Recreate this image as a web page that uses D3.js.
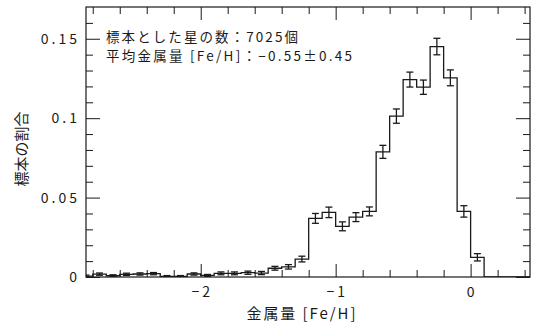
<!DOCTYPE html>
<html>
<head>
<meta charset="utf-8">
<script src="https://cdn.jsdelivr.net/npm/d3@7"></script>
<style>
  body { margin: 0; background: #fff; }
  text { font-family: "Noto Sans CJK JP", "Noto Sans", sans-serif; fill: #1a1a1a; }
</style>
</head>
<body>
<svg id="chart" width="537" height="326"></svg>
<script>
// Metallicity distribution of the sample: fraction of stars per 0.1 dex bin
const binCenters = [
  -2.85, -2.75, -2.65, -2.55, -2.45, -2.35, -2.25, -2.15, -2.05, -1.95,
  -1.85, -1.75, -1.65, -1.55, -1.45, -1.35, -1.25, -1.15, -1.05, -0.95,
  -0.85, -0.75, -0.65, -0.55, -0.45, -0.35, -0.25, -0.15, -0.05, 0.05
];
const fractions = [
  0.0006, 0.0018, 0.0008, 0.0017, 0.0019, 0.0021, 0.0004, 0.0004, 0.0019, 0.0010,
  0.0023, 0.0023, 0.0027, 0.0025, 0.0055, 0.0064, 0.0113, 0.0369, 0.0407, 0.0319,
  0.0377, 0.0413, 0.0788, 0.1013, 0.1243, 0.1195, 0.1451, 0.1254, 0.0413, 0.0124
];
const errors = [
  0.0006, 0.0007, 0.0006, 0.0007, 0.0007, 0.0007, 0.0005, 0.0005, 0.0007, 0.0006,
  0.0009, 0.0009, 0.0010, 0.0010, 0.0012, 0.0014, 0.0018, 0.0031, 0.0033, 0.0028,
  0.0028, 0.0028, 0.0041, 0.0045, 0.0047, 0.0045, 0.0052, 0.0050, 0.0036, 0.0023
];
const binWidth = 0.1;

const xDomain = [-2.85, 0.44];
const yDomain = [0, 0.17];
const xMajorTicks = [-2, -1, 0];
const xTickLabels = ["\u22122", "\u22121", "0"];
const xMinorTicks = [-2.8, -2.6, -2.4, -2.2, -1.8, -1.6, -1.4, -1.2, -0.8, -0.6, -0.4, -0.2, 0.2, 0.4];
const yMajorTicks = [0, 0.05, 0.1, 0.15];
const yTickLabels = ["0", "0.05", "0.1", "0.15"];
const yMinorTicks = [0.01, 0.02, 0.03, 0.04, 0.06, 0.07, 0.08, 0.09, 0.11, 0.12, 0.13, 0.14, 0.16];

const sampleLine = "標本とした星の数：7025個";
const meanLine = "平均金属量 [Fe/H]：\u22120.55±0.45";
const xTitle = "金属量 [Fe/H]";
const yTitle = "標本の割合";

const W = 537, H = 326;
const m = { left: 86, right: 7, top: 7, bottom: 49 };
const pw = W - m.left - m.right, ph = H - m.top - m.bottom;

const svg = d3.select("#chart");
const g = svg.append("g").attr("transform", `translate(${m.left},${m.top})`);

const x = d3.scaleLinear().domain(xDomain).range([0, pw]);
const y = d3.scaleLinear().domain(yDomain).range([ph, 0]);

svg.append("defs").append("clipPath").attr("id", "plot-clip")
  .append("rect").attr("width", pw).attr("height", ph);

// ticks on all four sides, pointing inward
function tickAxis(axisFn, scale, values, size, transform) {
  const ax = axisFn(scale).tickValues(values).tickSize(-size).tickFormat("");
  const sel = g.append("g").attr("transform", transform).call(ax);
  sel.select(".domain").remove();
  sel.selectAll(".tick line").attr("stroke", "#1a1a1a").attr("stroke-width", 1);
  return sel;
}
tickAxis(d3.axisBottom, x, xMinorTicks, 7, `translate(0,${ph})`);
tickAxis(d3.axisBottom, x, xMajorTicks, 13, `translate(0,${ph})`);
tickAxis(d3.axisTop, x, xMinorTicks, 7, "translate(0,0)");
tickAxis(d3.axisTop, x, xMajorTicks, 13, "translate(0,0)");
tickAxis(d3.axisLeft, y, yMinorTicks, 7, "translate(0,0)");
tickAxis(d3.axisLeft, y, yMajorTicks, 14, "translate(0,0)");
tickAxis(d3.axisRight, y, yMinorTicks, 7, `translate(${pw},0)`);
tickAxis(d3.axisRight, y, yMajorTicks, 14, `translate(${pw},0)`);

// tick labels
g.append("g").selectAll("text").data(xMajorTicks).join("text")
  .attr("x", d => x(d) + 1.5)
  .attr("y", ph + 20)
  .attr("text-anchor", "middle")
  .attr("font-size", 14)
  .attr("letter-spacing", 3)
  .text((d, i) => xTickLabels[i]);

g.append("g").selectAll("text").data(yMajorTicks).join("text")
  .attr("x", -6)
  .attr("y", d => y(d))
  .attr("dy", "0.36em")
  .attr("text-anchor", "end")
  .attr("font-size", 14)
  .attr("letter-spacing", 3)
  .text((d, i) => yTickLabels[i]);

// frame
g.append("rect").attr("width", pw).attr("height", ph)
  .attr("fill", "none").attr("stroke", "#1a1a1a").attr("stroke-width", 1.2);

// step histogram
const stepPts = binCenters.map((c, i) => [c - binWidth / 2, fractions[i]]);
const lastEdge = binCenters[binCenters.length - 1] + binWidth / 2;
stepPts.push([lastEdge, 0], [xDomain[1], 0]);

const plot = g.append("g").attr("clip-path", "url(#plot-clip)");
plot.append("path")
  .datum(stepPts)
  .attr("fill", "none")
  .attr("stroke", "#1a1a1a")
  .attr("stroke-width", 1.3)
  .attr("d", d3.line().x(d => x(d[0])).y(d => y(d[1])).curve(d3.curveStepAfter));

// error bars
const cap = 3.5;
const eb = plot.append("g").attr("stroke", "#1a1a1a").attr("stroke-width", 1.3)
  .selectAll("g").data(binCenters).join("g");
eb.append("line")
  .attr("x1", d => x(d)).attr("x2", d => x(d))
  .attr("y1", (d, i) => y(fractions[i] - errors[i]))
  .attr("y2", (d, i) => y(fractions[i] + errors[i]));
eb.append("line")
  .attr("x1", d => x(d) - cap).attr("x2", d => x(d) + cap)
  .attr("y1", (d, i) => y(fractions[i] + errors[i]))
  .attr("y2", (d, i) => y(fractions[i] + errors[i]));
eb.append("line")
  .attr("x1", d => x(d) - cap).attr("x2", d => x(d) + cap)
  .attr("y1", (d, i) => y(fractions[i] - errors[i]))
  .attr("y2", (d, i) => y(fractions[i] - errors[i]));

// annotation
g.append("text").attr("x", 20).attr("y", 35)
  .attr("font-size", 13.5).attr("textLength", 192).attr("lengthAdjust", "spacing")
  .text(sampleLine);
g.append("text").attr("x", 20).attr("y", 54)
  .attr("font-size", 13.5).attr("textLength", 246).attr("lengthAdjust", "spacing")
  .text(meanLine);

// axis titles
svg.append("text")
  .attr("x", 301).attr("y", 319)
  .attr("text-anchor", "middle")
  .attr("font-size", 15)
  .attr("textLength", 109).attr("lengthAdjust", "spacing")
  .text(xTitle);

svg.append("text")
  .attr("transform", "translate(27,149) rotate(-90)")
  .attr("text-anchor", "middle")
  .attr("font-size", 15)
  .text(yTitle);
</script>
</body>
</html>
